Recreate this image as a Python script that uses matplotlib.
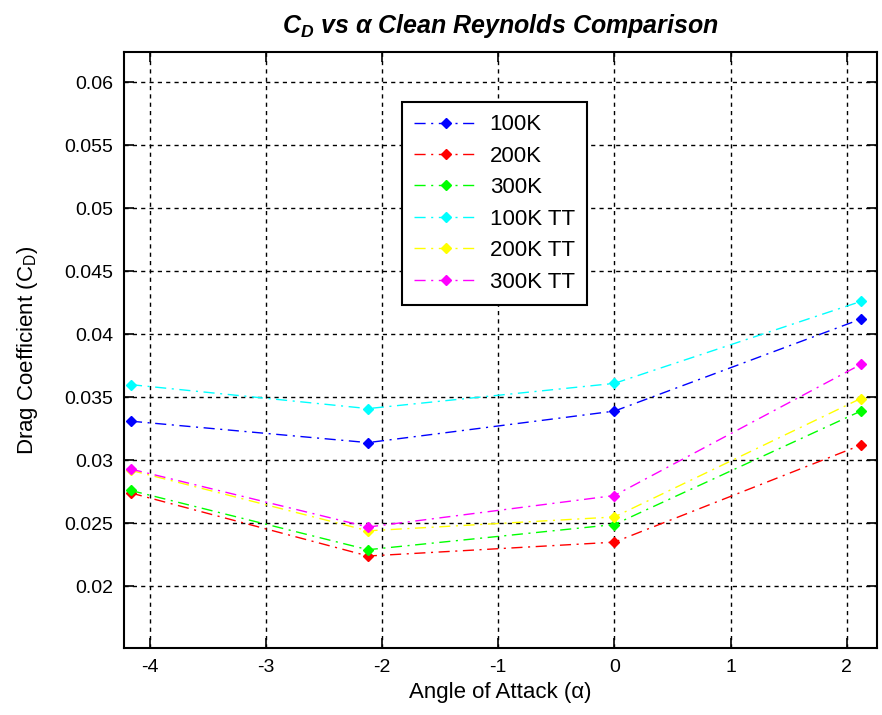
# C_D vs alpha, clean Reynolds comparison (MATLAB-style figure)
import numpy as np
from matplotlib import pyplot as plt
from matplotlib.ticker import FuncFormatter

plt.rcParams['font.family'] = ['Liberation Sans', 'DejaVu Sans']
plt.rcParams['axes.unicode_minus'] = False
plt.rcParams['mathtext.fontset'] = 'custom'
plt.rcParams['mathtext.rm'] = 'Liberation Sans'
plt.rcParams['mathtext.it'] = 'Liberation Sans:italic:bold'

alpha = [-4.16, -2.12, 0.0, 2.12]

cd_100k = [0.0331, 0.0314, 0.0339, 0.0412]
cd_200k = [0.0274, 0.0224, 0.0235, 0.0312]
cd_300k = [0.0276, 0.0229, 0.0249, 0.0339]
cd_100k_tt = [0.0360, 0.0341, 0.0361, 0.0426]
cd_200k_tt = [0.0292, 0.0244, 0.0255, 0.0349]
cd_300k_tt = [0.0293, 0.0247, 0.0272, 0.0376]

labels = ['100K', '200K', '300K', '100K TT', '200K TT', '300K TT']
colors = ['#0000ff', '#ff0000', '#00ff00', '#00ffff', '#ffff00', '#ff00ff']
series = [cd_100k, cd_200k, cd_300k, cd_100k_tt, cd_200k_tt, cd_300k_tt]

fig = plt.figure(figsize=(8.82, 7.15), dpi=100)
ax = fig.add_axes([124 / 882, 1 - 648 / 715, 753 / 882, 596 / 715])

for y, c, lab in zip(series, colors, labels):
    ax.plot(alpha, y, linestyle=(0, (8, 4, 1.5, 4)), color=c, lw=1.0, marker='D',
            markersize=5.5, markerfacecolor=c, markeredgecolor=c, label=lab)

ax.set_xlim(-4.22, 2.26)
ax.set_ylim(0.0151, 0.0624)
ax.set_xticks([-4, -3, -2, -1, 0, 1, 2])
ax.set_yticks(np.arange(0.02, 0.0601, 0.005))
ax.yaxis.set_major_formatter(FuncFormatter(lambda v, p: '%g' % round(v, 4)))

ax.grid(True, color='black', linestyle=(0, (3, 3)), linewidth=1.0)
ax.tick_params(direction='in', top=True, right=True, length=7, width=1.2,
               labelsize=14, pad=8)
for s in ax.spines.values():
    s.set_linewidth(1.5)

ax.set_title(r'$C_D$ vs α Clean Reynolds Comparison', fontsize=18,
             fontweight='bold', style='italic', pad=14)
ax.set_xlabel('Angle of Attack (α)', fontsize=16, labelpad=4)
ax.set_ylabel(r'Drag Coefficient (C$_\mathrm{D}$)', fontsize=16, labelpad=17)

leg = ax.legend(loc='upper left', bbox_to_anchor=(0.369, 0.916), fontsize=16,
                fancybox=False, edgecolor='black', framealpha=1,
                borderaxespad=0, handlelength=2.9, handletextpad=0.5,
                borderpad=0.55, labelspacing=0.47)
leg.get_frame().set_linewidth(1.5)

plt.savefig('out.png', dpi=100)
